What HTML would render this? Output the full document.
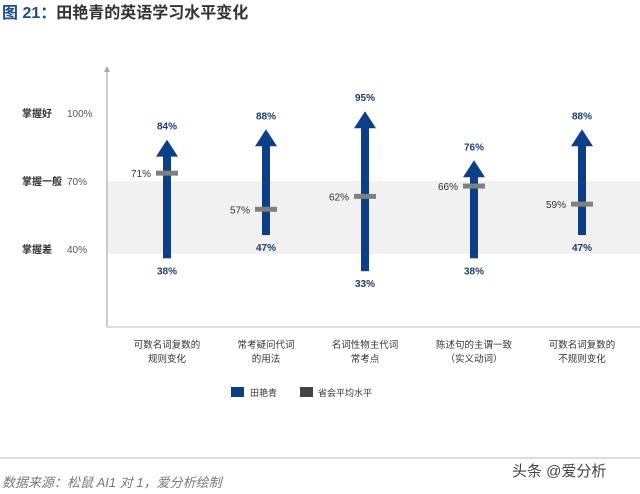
<!DOCTYPE html>
<html><head><meta charset="utf-8"><style>
body{margin:0;width:640px;height:494px;background:#fff;overflow:hidden;font-family:"Liberation Sans","Noto Sans CJK SC",sans-serif;}
</style></head><body>
<svg width="640" height="494" viewBox="0 0 640 494" style="position:absolute;left:0;top:0">
<text x="2" y="18" font-size="16" font-weight="bold"><tspan fill="#1d4d8c">图 21：</tspan><tspan fill="#333">田艳青的英语学习水平变化</tspan></text>
<rect x="108" y="181" width="532" height="73" fill="#f1f1f1"/>
<line x1="107" y1="72" x2="107" y2="327" stroke="#aaa" stroke-width="1.2"/>
<polygon points="104,72 110,72 107,66" fill="#aaa"/>
<line x1="107" y1="327" x2="640" y2="327" stroke="#ccc" stroke-width="1.2"/>
<g font-size="10" fill="#333" font-weight="bold">
<text x="22" y="117">掌握好</text><text x="22" y="185">掌握一般</text><text x="22" y="253">掌握差</text>
</g>
<g font-size="10" fill="#555">
<text x="67" y="117">100%</text><text x="67" y="185">70%</text><text x="67" y="253">40%</text>
</g>
<g id="marks"></g>
<g>
<rect x="231" y="387" width="13" height="10" fill="#0d3f86"/>
<text x="250" y="396" font-size="9" fill="#333">田艳青</text>
<rect x="300" y="387" width="13" height="10" fill="#444"/>
<text x="318" y="396" font-size="9" fill="#333">省会平均水平</text>
</g>
<line x1="0" y1="458" x2="640" y2="458" stroke="#bbb" stroke-width="1"/>
<text x="2" y="487" font-size="13" font-style="italic" fill="#777">数据来源：松鼠 AI1 对 1，爱分析绘制</text>
<text x="512" y="476" font-size="15" fill="#444">头条 @爱分析</text>
</svg>
<script>
const categories=[["可数名词复数的","规则变化"],["常考疑问代词","的用法"],["名词性物主代词","常考点"],["陈述句的主谓一致","（实义动词）"],["可数名词复数的","不规则变化"]];
const startVals=[38,47,33,38,47];
const endVals=[84,88,95,76,88];
const avgVals=[71,57,62,66,59];
const layoutX=[167,266,365,474,582];
const xs=c=>layoutX[c];
const y=v=>190.7-2.58*(v-64.2);
const NS="http://www.w3.org/2000/svg";
const g=document.getElementById('marks');
function mk(t,a){const e=document.createElementNS(NS,t);for(const k in a)e.setAttribute(k,a[k]);g.appendChild(e);return e;}
categories.forEach((cat,i)=>{
 const x=xs(i),y0=y(startVals[i]),y1=y(endVals[i]);
 const s=mk('rect',{x:x-4,y:y1+16,width:8,height:y0-y1-16,fill:'#0d3f86'});
 
 
 const h=mk('polygon',{points:`${x-11},${y1+17} ${x+11},${y1+17} ${x},${y1}`,fill:'#0d3f86'});
 
 
 const m=mk('rect',{x:x-11,y:y(avgVals[i])-2.5,width:22,height:5,fill:'#808080'});
 
 
 const t1=mk('text',{x:x,y:y1-10,'font-size':10,'font-weight':'bold',fill:'#1d3d6e','text-anchor':'middle'});t1.textContent=endVals[i]+'%';
 
 
 const t2=mk('text',{x:x,y:y0+16,'font-size':10,'font-weight':'bold',fill:'#1d3d6e','text-anchor':'middle'});t2.textContent=startVals[i]+'%';
 
 
 const t3=mk('text',{x:x-16,y:y(avgVals[i])+4,'font-size':10,fill:'#333','text-anchor':'end'});t3.textContent=avgVals[i]+'%';
 
 
 cat.forEach((ln,j)=>{const c=mk('text',{x:x,y:348+j*14,'font-size':9.5,fill:'#333','text-anchor':'middle'});c.textContent=ln;
 
 });
});
</script>
</body></html>
